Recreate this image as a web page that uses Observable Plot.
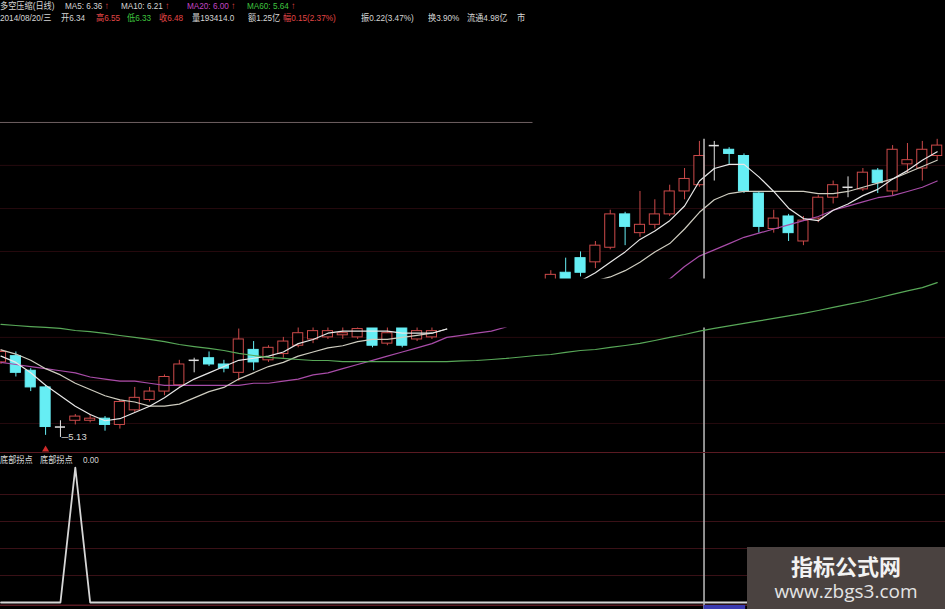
<!DOCTYPE html>
<html>
<head>
<meta charset="utf-8">
<script src="https://cdn.jsdelivr.net/npm/d3@7"></script>
<script src="https://cdn.jsdelivr.net/npm/@observablehq/plot@0.6"></script>
<style>
  html, body { margin: 0; padding: 0; background: #000; }
  #wrap { position: relative; width: 945px; height: 609px; overflow: hidden; background: #000;
          font-family: "Liberation Sans", "Noto Sans CJK SC", sans-serif; }
  #upper { position: absolute; left: 0; top: 0; }
  #lower { position: absolute; left: 0; top: 452px; border-top: 1px solid #5a1a22; }
  .row { position: absolute; left: 0; height: 11px; width: 540px; }
  .row span { position: absolute; top: 0; font-size: 9.5px; line-height: 11px; white-space: nowrap; color: #d6d6d6;
              font-family: "Liberation Sans", "Noto Sans CJK SC", sans-serif;
              transform: scaleX(0.86); transform-origin: 0 50%; }
  .row span b { font-weight: 400; margin-left: 3px; color: #e04646; }
  .r { color: #e04646 !important; }
  .g { color: #3fc43f !important; }
  .m { color: #c445c4 !important; }
  #mark { position: absolute; left: 747px; top: 547px; width: 198px; height: 62px; background: #4a4240;
          color: #f2f2f2; text-align: center; font-family: "Noto Sans CJK SC", sans-serif; }
  #mark .big { position: absolute; left: 0; right: 0; top: 5px; font-size: 22px; font-weight: 700; line-height: 26px; }
  #mark .url { position: absolute; left: 0; right: 0; top: 32px; font-size: 19px; line-height: 24px;
               font-family: "Open Sans", "Noto Sans", sans-serif; color: #e4e4e4; }
</style>
</head>
<body>
<div id="wrap">
  <div id="upper"></div>
  <div id="lower"></div>
  <div class="row" style="top:0px">
    <span style="left:0px">多空压缩(日线)</span>
    <span style="left:65px">MA5: 6.36<b>↑</b></span>
    <span style="left:121px">MA10: 6.21<b>↑</b></span>
    <span class="m" style="left:187px">MA20: 6.00<b>↑</b></span>
    <span class="g" style="left:247px">MA60: 5.64<b>↑</b></span>
  </div>
  <div class="row" style="top:12px">
    <span style="left:0px">2014/08/20/三</span>
    <span style="left:61px">开6.34</span>
    <span class="r" style="left:96px">高6.55</span>
    <span class="g" style="left:127px">低6.33</span>
    <span class="r" style="left:159px">收6.48</span>
    <span style="left:192px">量193414.0</span>
    <span style="left:248px">额1.25亿</span>
    <span class="r" style="left:283px">幅0.15(2.37%)</span>
    <span style="left:361px">振0.22(3.47%)</span>
    <span style="left:428px">换3.90%</span>
    <span style="left:467px">流通4.98亿</span>
    <span style="left:517px">市</span>
  </div>
  <div class="row" style="top:454px">
    <span style="left:0px">底部拐点</span>
    <span style="left:40px">底部拐点</span>
    <span style="left:83px">0.00</span>
  </div>
  <div id="mark"><div class="big">指标公式网</div><div class="url">www.zbgs3.com</div></div>
</div>
<script>
// Daily bars, index 0..63 (bars 30..36 are not shown)
const open  = [5.49,5.52,5.45,5.37,5.18,5.21,5.21,5.22,5.19,5.26,5.31,5.35,5.38,5.50,5.51,5.48,5.44,5.55,5.50,5.53,
               5.57,5.60,5.61,5.62,5.61,5.66,5.58,5.66,5.60,5.61,null,null,null,null,null,null,null,5.88,5.92,5.99,
               5.97,6.04,6.20,6.11,6.15,6.20,6.31,6.34,6.53,6.51,6.48,6.30,6.13,6.19,6.07,6.18,6.28,6.33,6.32,6.41,
               6.31,6.44,6.42,6.48];
const high  = [5.55,5.54,5.46,5.38,5.21,5.24,5.24,5.23,5.31,5.37,5.37,5.43,5.50,5.51,5.54,5.50,5.65,5.59,5.57,5.61,
               5.66,5.66,5.66,5.66,5.66,5.66,5.66,5.66,5.66,5.66,null,null,null,null,null,null,null,5.93,5.99,6.02,
               6.07,6.22,6.21,6.31,6.27,6.34,6.42,6.55,6.55,6.52,6.49,6.31,6.22,6.20,6.19,6.29,6.36,6.38,6.42,6.42,
               6.53,6.54,6.55,6.56];
const low   = [5.48,5.42,5.35,5.14,5.13,5.19,5.20,5.16,5.17,5.25,5.30,5.33,5.37,5.44,5.47,5.44,5.40,5.45,5.49,5.51,
               5.56,5.58,5.60,5.60,5.60,5.56,5.57,5.56,5.59,5.60,null,null,null,null,null,null,null,5.87,5.87,5.90,
               5.94,6.03,6.05,6.09,6.13,6.19,6.27,6.33,6.36,6.44,6.30,6.11,6.11,6.07,6.05,6.16,6.25,6.28,6.31,6.30,
               6.29,6.40,6.36,6.46];
const close = [5.54,5.44,5.37,5.18,5.18,5.23,5.22,5.19,5.30,5.32,5.35,5.42,5.48,5.50,5.48,5.46,5.60,5.49,5.56,5.59,
               5.63,5.64,5.64,5.63,5.65,5.57,5.63,5.57,5.64,5.64,null,null,null,null,null,null,null,5.91,5.88,5.92,
               6.05,6.20,6.14,6.15,6.20,6.31,6.37,6.48,6.53,6.49,6.31,6.14,6.18,6.11,6.17,6.28,6.34,6.33,6.40,6.35,
               6.51,6.46,6.51,6.53];

// Moving averages (null where the line is not drawn)
const ma5  = [5.52,5.49,5.44,5.38,5.33,5.28,5.24,5.21,5.22,5.25,5.28,5.32,5.37,5.41,5.44,5.47,5.50,5.51,5.52,5.54,
              5.58,5.60,5.63,5.64,5.64,5.64,5.64,5.63,5.63,5.63,5.65,null,null,null,null,null,null,null,null,5.88,
              5.92,5.97,6.02,6.08,6.12,6.17,6.24,6.36,6.42,6.44,6.44,6.38,6.31,6.23,6.18,6.17,6.22,6.25,6.29,6.32,
              6.37,6.41,6.46,6.50];
const ma10 = [5.55,5.53,5.50,5.46,5.43,5.39,5.36,5.33,5.31,5.30,5.28,5.28,5.29,5.32,5.35,5.37,5.41,5.44,5.47,5.49,
              5.52,5.54,5.56,5.57,5.59,5.60,5.60,5.61,5.62,5.63,5.65,null,null,null,null,null,null,null,null,null,
              5.88,5.90,5.93,5.97,6.02,6.06,6.13,6.21,6.27,6.30,6.31,6.31,6.31,6.31,6.31,6.30,6.30,6.31,6.33,6.35,
              6.37,6.40,6.43,6.46];
const ma20 = [5.49,5.48,5.47,5.46,5.45,5.44,5.42,5.41,5.40,5.40,5.39,5.38,5.38,5.38,5.38,5.38,5.38,5.39,5.39,5.40,
              5.41,5.43,5.44,5.46,5.48,5.50,5.52,5.54,5.56,5.58,5.61,5.62,5.63,5.64,5.66,null,null,null,null,null,
              null,null,null,null,5.87,5.89,5.95,6.00,6.03,6.06,6.09,6.11,6.13,6.15,6.17,6.19,6.22,6.24,6.26,6.28,
              6.29,6.31,6.33,6.36];
const ma60 = [5.672,5.667,5.662,5.658,5.653,5.643,5.638,5.629,5.619,5.610,5.600,5.590,5.576,5.566,5.557,5.547,5.533,5.523,5.514,5.509,
              5.504,5.499,5.499,5.494,5.494,5.494,5.494,5.494,5.494,5.494,5.494,5.497,5.499,5.504,5.509,5.516,5.523,5.528,5.538,5.547,
              5.552,5.562,5.571,5.581,5.595,5.610,5.624,5.640,5.653,5.665,5.677,5.689,5.701,5.713,5.725,5.739,5.754,5.768,5.782,5.799,
              5.816,5.833,5.849,5.873];

// Lower indicator (bottom turning point signal)
const signal = [0,0,0,0,0,1,0,0,0,0,0,0,0,0,0,0,0,0,0,0,0,0,0,0,0,0,0,0,0,0,0,0,0,0,0,0,0,0,0,0,
                0,0,0,0,0,0,0,0,0,0,0,0,0,0,0,0,0,0,0,0,0,0,0,0];
const signalMarks = [3];

// Reference levels, crosshair, low marker and hidden band
const gridLevels  = [6.435, 6.228, 6.022, 5.816, 5.610, 5.403, 5.197];
const headerEdge  = {y: 6.641, x1: -0.5, x2: 35.8};
const lowerGrid   = [0.2, 0.4, 0.6, 0.8];
const crossX      = 47.31;
const crossTop    = 6.56;
const lowMark     = {i: 4, price: 5.13, label: "─5.13"};
const hiddenBands = [{x1: -1, x2: 65, y1: 5.655, y2: 5.89}];

const xDomain = [-0.034, 63.56];
const yDomain = [5.053, 7.226];
const sDomain = [-0.052, 1.104];

const RED = "#cc4a4a", CYAN = "#66eef4", WHITE = "#e2e2e2";
const kindColor = {up: RED, down: CYAN, flat: WHITE};

const bars = d3.range(open.length).filter(i => open[i] != null).map(i => ({
  i, o: open[i], h: high[i], l: low[i], c: close[i],
  kind: close[i] > open[i] ? "up" : close[i] < open[i] ? "down" : "flat"
}));
const series = arr => arr.map((v, i) => ({i, v}));

const upper = Plot.plot({
  width: 945, height: 453, margin: 0,
  x: {domain: xDomain, axis: null},
  y: {domain: yDomain, axis: null},
  color: {type: "identity"},
  style: {background: "#000", color: "#ccc", fontFamily: "Liberation Sans, sans-serif"},
  marks: [
    Plot.ruleY(gridLevels, {stroke: "#260a0e", strokeWidth: 1}),
    Plot.ruleY([headerEdge], {y: "y", x1: "x1", x2: "x2", stroke: "#6e6062"}),
    Plot.ruleX(bars, {x: "i", y1: "l", y2: "h", stroke: d => kindColor[d.kind]}),
    Plot.rect(bars.filter(d => d.kind !== "flat"), {
      x1: d => d.i - 0.34, x2: d => d.i + 0.34, y1: "o", y2: "c",
      fill: d => d.kind === "up" ? "#000" : CYAN, stroke: d => kindColor[d.kind], strokeWidth: 1
    }),
    Plot.ruleY(bars.filter(d => d.kind === "flat"), {y: "o", x1: d => d.i - 0.34, x2: d => d.i + 0.34, stroke: WHITE, strokeWidth: 1.5}),
    Plot.line(series(ma20), {x: "i", y: "v", stroke: "#a84ca8", strokeWidth: 1.2}),
    Plot.line(series(ma10), {x: "i", y: "v", stroke: "#cfcdc0", strokeWidth: 1.2}),
    Plot.line(series(ma5),  {x: "i", y: "v", stroke: "#e8e8e8", strokeWidth: 1.2}),
    Plot.ruleX([crossX], {y1: crossTop, y2: yDomain[0], stroke: "#bdbdbd", strokeWidth: 1.5}),
    Plot.rect(hiddenBands, {x1: "x1", x2: "x2", y1: "y1", y2: "y2", fill: "#000"}),
    Plot.line(series(ma60), {x: "i", y: "v", stroke: "#58a858", strokeWidth: 1.2}),
    Plot.text([lowMark], {x: "i", y: "price", text: "label", textAnchor: "start", dx: 1, fill: "#d8d8d8", fontSize: 9.5}),
    Plot.dot(signalMarks, {x: d => d, frameAnchor: "bottom", dy: -4, symbol: "triangle", r: 2.6, fill: "#d02a2a", stroke: "none"})
  ]
});
document.getElementById("upper").appendChild(upper);

const lower = Plot.plot({
  width: 945, height: 156, margin: 0,
  x: {domain: xDomain, axis: null},
  y: {domain: sDomain, axis: null},
  color: {type: "identity"},
  style: {background: "#000", color: "#ccc"},
  marks: [
    Plot.ruleY(lowerGrid, {stroke: "#3a1117", strokeWidth: 1}),
    Plot.ruleY([-0.02], {stroke: "#5a1a22", strokeWidth: 1.5}),
    Plot.line(series(signal), {x: "i", y: "v", stroke: "#d6d6d6", strokeWidth: 1.8}),
    Plot.ruleX([crossX], {stroke: "#bdbdbd", strokeWidth: 1.5}),
    Plot.rect([crossX], {x1: d => d, x2: d => d + 2.8, y1: -0.022, y2: -0.08, fill: "#3a3ab0"})
  ]
});
document.getElementById("lower").appendChild(lower);
</script>
</body>
</html>
